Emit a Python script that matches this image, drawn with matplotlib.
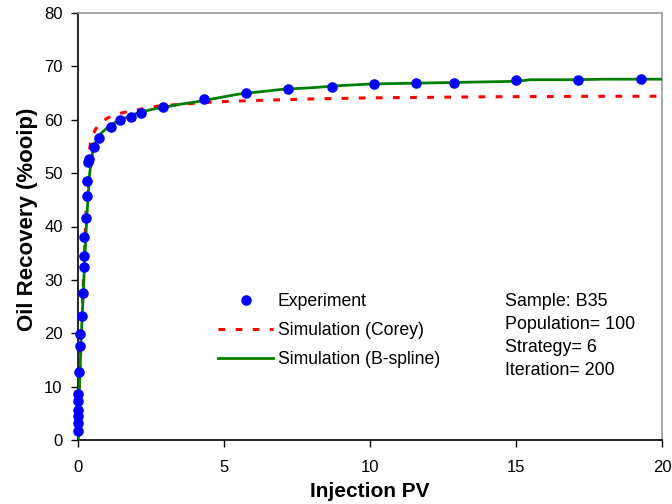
import matplotlib
matplotlib.use("Agg")
import matplotlib.pyplot as plt

plt.rcParams["font.family"] = ["Liberation Sans", "DejaVu Sans"]

# Experimental points (injection PV, recovery %ooip)
exp_pv = [0.0, 0.0, 0.0, 0.0, 0.0, 0.0, 0.05, 0.08, 0.08, 0.12, 0.16, 0.2, 0.2,
          0.22, 0.27, 0.31, 0.31, 0.35, 0.39, 0.56, 0.73, 1.12, 1.44, 1.82, 2.15,
          2.9, 4.32, 5.77, 7.2, 8.7, 10.14, 11.58, 12.88, 15.0, 17.13, 19.28]
exp_rec = [1.7, 3.1, 4.5, 5.6, 7.3, 8.6, 12.8, 17.7, 19.8, 23.3, 27.6, 32.5, 34.5,
           38.1, 41.6, 45.7, 48.5, 52.0, 52.7, 54.9, 56.6, 58.7, 59.9, 60.5, 61.3,
           62.3, 63.8, 65.1, 65.8, 66.1, 66.7, 66.9, 66.9, 67.4, 67.4, 67.7]

# Simulation with Corey relperm
corey_pv = [0, 0.05, 0.1, 0.15, 0.2, 0.25, 0.3, 0.35, 0.4, 0.45, 0.6, 0.75, 1.0,
            1.3, 1.6, 2.0, 2.5, 3.0, 3.6, 4.2, 5, 6, 7, 8, 9, 10, 12, 14, 16, 18, 20]
corey_rec = [0, 10, 18, 25, 32, 39, 46, 51, 54.5, 56.5, 58.2, 59.3, 60.3,
             61.0, 61.4, 61.8, 62.4, 62.7, 62.9, 63.2, 63.4, 63.6, 63.75, 63.9,
             64.0, 64.1, 64.2, 64.3, 64.35, 64.4, 64.4]

# Simulation with B-spline relperm
bspl_pv = [0, 0.02, 0.05, 0.1, 0.15, 0.2, 0.25, 0.3, 0.35, 0.4, 0.5, 0.6, 0.8,
           1.0, 1.3, 1.6, 2.0, 2.5, 3.0, 3.5, 4.0, 4.5, 5.0, 5.5, 6.0, 7, 8, 9,
           10, 11, 12, 13, 14, 15, 15.5, 16, 17, 18, 19, 20]
bspl_rec = [0, 5, 10, 18, 24, 30, 36, 41.5, 46, 50, 54, 55.8, 57.5,
            58.5, 59.6, 60.3, 61.2, 61.9, 62.4, 62.9, 63.3, 63.8, 64.3, 64.8,
            65.1, 65.7, 66.0, 66.4, 66.7, 66.8, 66.9, 67.0, 67.1, 67.2, 67.5,
            67.5, 67.5, 67.6, 67.6, 67.6]

run_info = ["Sample: B35", "Population= 100", "Strategy= 6", "Iteration= 200"]

fig = plt.figure(figsize=(6.72, 5.04), dpi=100)
ax = fig.add_axes([78 / 672, 1 - 440 / 504, 584 / 672, 427 / 504])

corey, = ax.plot(corey_pv, corey_rec, color="#FF0000", lw=2.2,
                 dashes=(2.2, 3.4), label="Simulation (Corey)", zorder=2)
bspl, = ax.plot(bspl_pv, bspl_rec, color="#008000", lw=2.0,
                label="Simulation (B-spline)", zorder=3)
exp, = ax.plot(exp_pv, exp_rec, "o", color="#0000FF", ms=7.6, mec="none",
               label="Experiment", zorder=4, clip_on=False)

ax.set_xlim(0, 20)
ax.set_ylim(0, 80)
ax.set_xticks([0, 5, 10, 15, 20])
ax.set_yticks(range(0, 81, 10))
ax.tick_params(direction="out", length=5, width=1, labelsize=12)
ax.tick_params(axis="x", pad=9.5)
ax.tick_params(axis="y", pad=6)
for s in ["top", "right"]:
    ax.spines[s].set_color("#999999")
    ax.spines[s].set_linewidth(1.2)
for s in ["left", "bottom"]:
    ax.spines[s].set_linewidth(1.2)

ax.set_xlabel("Injection PV", fontsize=15, fontweight="bold", labelpad=5)
ax.set_ylabel("Oil Recovery (%ooip)", fontsize=16, fontweight="bold")
ax.yaxis.set_label_coords(-0.068, 0.517)

ax.legend(handles=[exp, corey, bspl], loc="upper left",
          bbox_to_anchor=(0.24, 0.345), frameon=False, fontsize=12.7,
          handlelength=3.1, handletextpad=0.28, labelspacing=0.68,
          borderpad=0, borderaxespad=0, numpoints=1)

ax.text(0.731, 0.345, "\n".join(run_info), transform=ax.transAxes,
        fontsize=12.9, va="top", ha="left", linespacing=1.46)

fig.savefig("out.png", dpi=100)
